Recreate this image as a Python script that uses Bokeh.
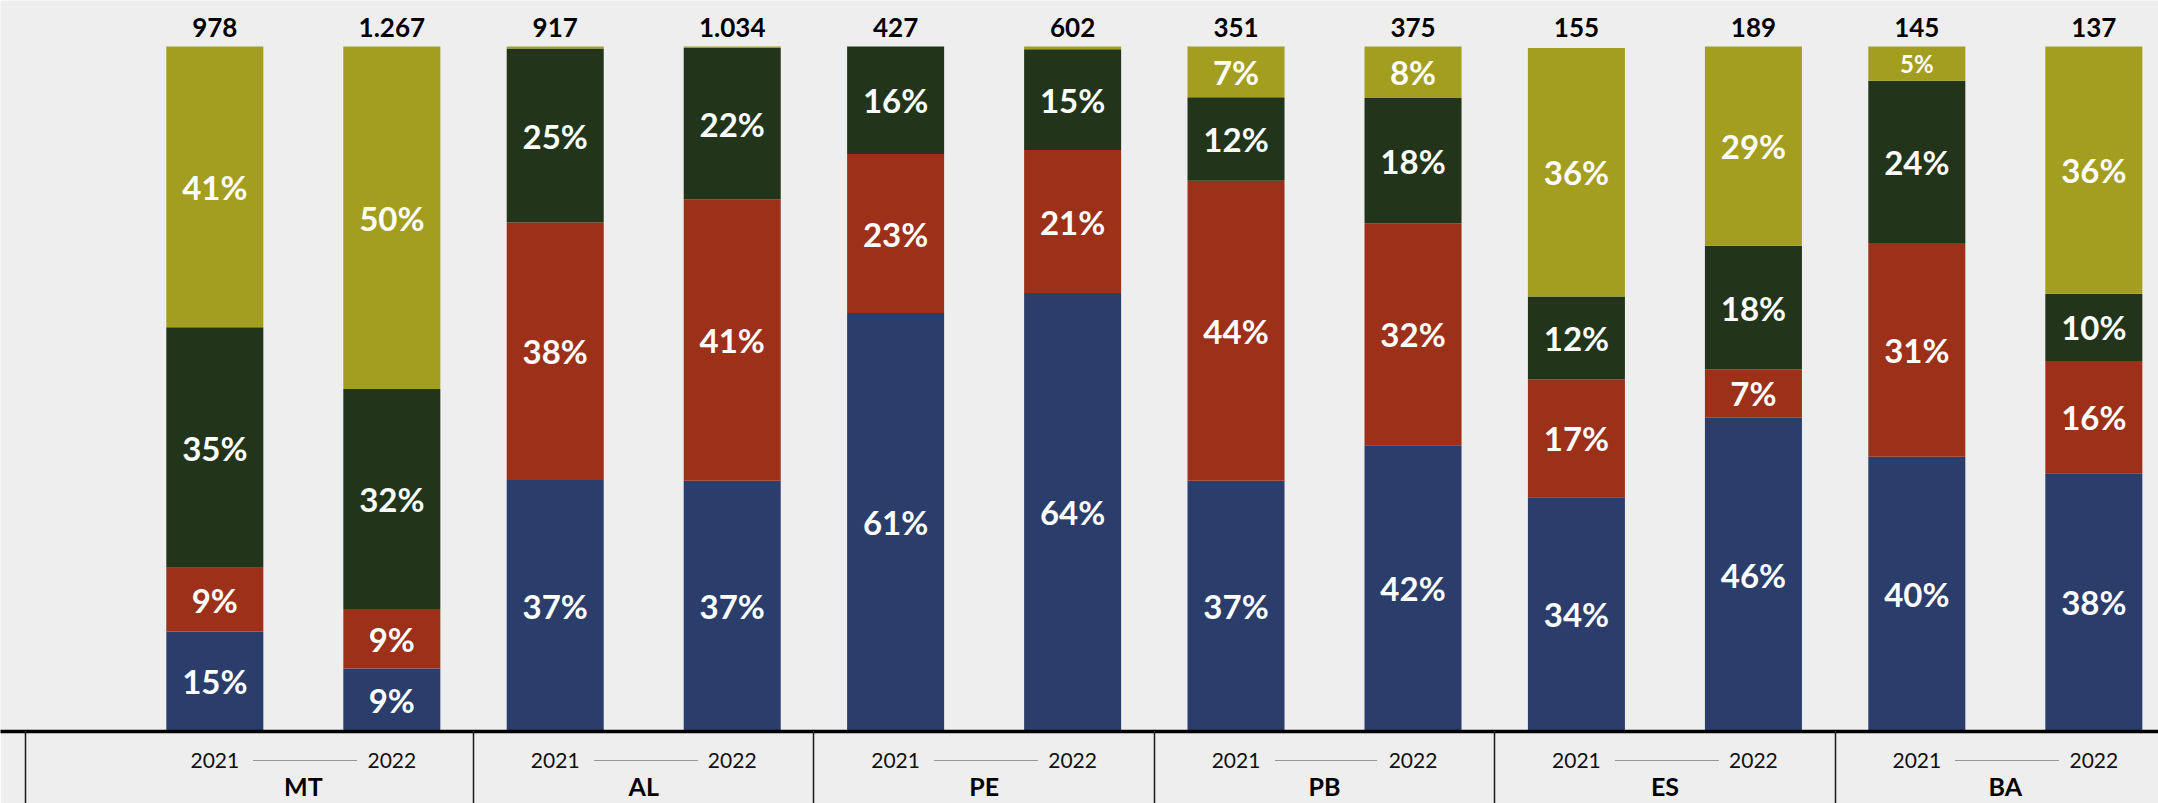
from bokeh.plotting import figure
from bokeh.models import ColumnDataSource, Range1d, LinearAxis, FixedTicker
from bokeh.core.properties import value
from bokeh.embed import file_html
from bokeh.resources import INLINE

# ---------------- data ----------------
estados = ["MT", "AL", "PE", "PB", "ES", "BA"]
anos = ["2021", "2022"]
totais = [978, 1267, 917, 1034, 427, 602, 351, 375, 155, 189, 145, 137]
# shares (%) of each bar, stacked bottom -> top
serie_azul     = [14.6, 9.2, 36.7, 36.6, 61.1, 64.0, 36.6, 41.8, 34.2, 45.8, 40.1, 37.7]
serie_vermelha = [9.3, 8.7, 37.6, 41.1, 23.2, 20.9, 43.8, 32.4, 17.2, 7.1, 31.2, 16.4]
serie_verde    = [35.1, 32.1, 25.4, 22.1, 15.7, 14.7, 12.2, 18.3, 12.1, 18.0, 23.7, 9.8]
serie_oliva    = [41.0, 50.0, 0.3, 0.2, 0.0, 0.4, 7.4, 7.5, 36.3, 29.1, 5.0, 36.1]

series = [serie_azul, serie_vermelha, serie_verde, serie_oliva]
cores = ["#2B3D6B", "#9C3019", "#22351B", "#A39D20"]

# ---------------- layout constants ----------------
G_STEP = 1.0      # distance between groups (states)
Y_STEP = 0.52     # distance between the two years inside a group
BAR_W = 0.285
TOPO = 100
BG = "#EEEEEE"
W, H = 2158, 803
PANEL = 72
CONN_DROP = 29    # connectors sit this many px below the baseline

xs = [g * G_STEP + j * Y_STEP for g in range(len(estados)) for j in range(len(anos))]
centros = [g * G_STEP + Y_STEP / 2 for g in range(len(estados))]
separadores = [-0.557] + [g * G_STEP + Y_STEP + (G_STEP - Y_STEP) / 2 for g in range(len(estados) - 1)]

p = figure(width=W, height=H,
           x_range=Range1d(-0.6296, 5.710), y_range=Range1d(0, 106.72),
           x_axis_location=None, y_axis_location=None,
           toolbar_location=None, output_backend="svg",
           min_border=0, min_border_bottom=PANEL,
           background_fill_color=BG, border_fill_color=BG,
           outline_line_color=None)
p.grid.visible = False

# stacked bars
bottom = [0.0] * len(xs)
lx, ly, lt, ls = [], [], [], []
for serie, cor in zip(series, cores):
    top = [b + v for b, v in zip(bottom, serie)]
    p.vbar(x=xs, width=BAR_W, bottom=bottom, top=top, fill_color=cor, line_color=None)
    for x, b, v in zip(xs, bottom, serie):
        if v >= 1:
            lx.append(x)
            ly.append(b + v / 2)
            lt.append(f"{v:.0f}%")
            ls.append("24px" if v < 6 else "33px")
    bottom = top

src_lbl = ColumnDataSource(dict(x=lx, y=ly, t=lt, s=ls))
p.text(x="x", y="y", text="t", source=src_lbl, text_font=value("Lato"),
       text_font_style="bold", text_font_size="s", text_color="white",
       text_align="center", text_baseline="middle")

# totals above bars
p.text(x=xs, y=[TOPO] * len(xs), text=[f"{n:,}".replace(",", ".") for n in totais],
       text_font=value("Lato"), text_font_style="bold", text_font_size="26px",
       text_color="black", text_align="center", text_baseline="alphabetic", y_offset=-19)

def bare_axis(**kw):
    base = dict(ticker=FixedTicker(ticks=[], minor_ticks=[]),
                axis_line_color=None, major_tick_line_color=None,
                major_tick_in=0, major_tick_out=0,
                minor_tick_line_color=None, minor_tick_in=0, minor_tick_out=0,
                major_label_standoff=0)
    base.update(kw)
    return LinearAxis(**base)

# 1) baseline axis: thick black line, reserves space down to the connector level
ax_base = bare_axis(ticker=FixedTicker(ticks=[], minor_ticks=separadores),
                    axis_line_color="black", axis_line_width=3.5,
                    minor_tick_out=CONN_DROP, minor_tick_line_color=BG)
p.add_layout(ax_base, "below")

# 2) thin dotted connectors between the two year labels of each state
for g in range(len(estados)):
    p.add_layout(bare_axis(bounds=(g + 0.115, g + 0.417), axis_line_color="#404040",
                           axis_line_width=1, axis_line_dash="1 1"), "below")

# 3) year labels (pulled up so they are centred on the connectors)
ax_anos = bare_axis(
    ticker=FixedTicker(ticks=xs, minor_ticks=[]),
    major_label_overrides={x: anos[i % len(anos)] for i, x in enumerate(xs)},
    major_label_standoff=-8, major_label_text_font="Lato",
    major_label_text_font_size="21px", major_label_text_color="#111111")
p.add_layout(ax_anos, "below")

# 4) state labels
ax_est = bare_axis(
    ticker=FixedTicker(ticks=centros, minor_ticks=[]),
    major_label_overrides={c: e for c, e in zip(centros, estados)},
    major_label_standoff=0, major_label_text_font="Lato", major_label_text_font_style="bold",
    major_label_text_font_size="25px", major_label_text_color="black")
p.add_layout(ax_est, "below")

# 5) group separators: ticks pointing up from the bottom of the axis panel
ax_sep = bare_axis(ticker=FixedTicker(ticks=[], minor_ticks=separadores),
                   minor_tick_in=PANEL, minor_tick_line_color="#1A1A1A",
                   minor_tick_line_width=1.5)
p.add_layout(ax_sep, "below")

open("out.html", "w").write(file_html(p, INLINE))
